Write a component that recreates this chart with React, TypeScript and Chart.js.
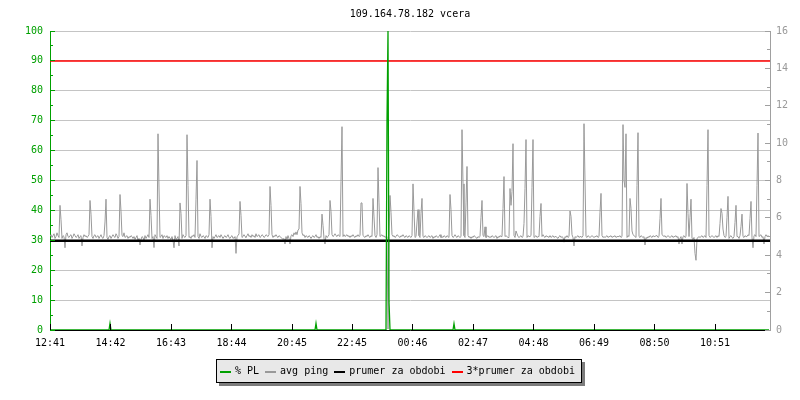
import React, { useEffect, useRef } from 'react';
import { Chart, registerables } from 'chart.js';

Chart.register(...registerables);

const TITLE = '109.164.78.182 vcera';
const X_LABELS = ['12:41', '14:42', '16:43', '18:44', '20:45', '22:45', '00:46', '02:47', '04:48', '06:49', '08:50', '10:51'];
const START_LABEL = '12:41';
const SAMPLE_MIN = 2;
const SPAN_MIN = 1440;
const PL_MAX = 100;
const PING_MAX = 16;

// avg ping baseline (ms), one sample per 2 minutes
const PING_BASE = [
  5.0, 5.1, 4.95, 5.05, 5.15, 4.9, 5.0, 5.2, 5.05, 4.95,
  5.1, 5.0, 4.9, 5.05, 5.0, 4.9, 5.1, 5.2, 5.0, 4.95,
  5.05, 5.1, 4.9, 5.0, 5.15, 5.05, 4.95, 5.0, 5.1, 4.9,
  5.0, 5.05, 4.9, 4.95, 5.1, 5.0, 5.05, 4.95, 5.0, 5.1,
  5.05, 4.95, 5.0, 4.9, 5.05, 5.1, 4.95, 5.0, 5.05, 4.9,
  5.0, 5.1, 4.95, 4.9, 5.05, 5.0, 5.1, 4.95, 4.85, 5.0,
  5.05, 4.9, 5.0, 5.1, 5.0, 4.95, 5.15, 5.05, 4.9, 5.0,
  5.1, 4.95, 5.05, 5.0, 5.2, 4.95, 5.0, 5.05, 4.9, 5.0,
  4.95, 5.05, 5.0, 4.9, 5.0, 4.85, 4.95, 5.05, 4.8, 4.9,
  5.0, 4.85, 5.0, 4.95, 4.8, 5.05, 4.9, 5.0, 5.1, 4.95,
  5.0, 5.05, 4.9, 5.0, 4.95, 5.1, 5.0, 4.9, 5.05, 5.0,
  4.95, 5.0, 5.1, 4.9, 5.05, 5.0, 4.95, 5.05, 4.9, 5.0,
  4.9, 4.85, 5.0, 4.8, 4.95, 5.05, 4.85, 4.9, 5.0, 4.95,
  5.05, 5.0, 4.9, 5.1, 5.0, 4.95, 5.05, 5.0, 5.1, 4.95,
  5.0, 4.9, 5.05, 5.0, 5.1, 4.95, 5.0, 5.05, 5.0, 4.9,
  5.15, 5.0, 4.95, 5.05, 5.0, 4.9, 5.05, 5.0, 4.95, 5.1,
  5.0, 4.95, 5.05, 5.0, 4.9, 5.0, 5.1, 4.95, 5.0, 5.05,
  4.95, 5.1, 5.0, 4.9, 5.0, 5.05, 4.95, 5.0, 5.1, 4.95,
  4.9, 5.0, 5.05, 4.9, 4.95, 5.0, 4.9, 5.0, 5.05, 5.15,
  5.0, 5.05, 4.95, 5.0, 5.1, 5.0, 4.95, 5.05, 5.15, 5.0,
  5.05, 4.95, 5.1, 5.0, 5.05, 4.95, 5.15, 5.0, 5.05, 5.1,
  4.95, 5.0, 5.1, 5.05, 4.95, 5.0, 5.1, 5.05, 5.0, 5.1,
  5.0, 5.05, 5.1, 4.95, 5.05, 5.0, 5.1, 5.0, 4.95, 5.05,
  5.0, 4.95, 4.9, 4.85, 4.9, 4.95, 5.0, 4.85, 5.05, 4.9,
  5.0, 5.05, 5.1, 5.0, 5.2, 5.1, 5.25, 5.1, 5.05, 5.0,
  5.1, 5.0, 5.2, 5.05, 5.1, 4.95, 5.05, 5.0, 4.95, 5.05,
  5.0, 4.9, 5.0, 5.05, 4.95, 5.0, 5.1, 4.95, 5.0, 4.9,
  5.0, 4.95, 5.05, 5.0, 4.9, 5.0, 5.05, 4.95, 5.0, 5.1,
  5.0, 5.05, 5.1, 5.0, 5.05, 5.15, 5.05, 5.0, 5.1, 5.05,
  5.0, 5.1, 5.05, 5.0, 5.1, 5.0, 5.05, 5.1, 5.0, 5.05,
  4.95, 5.05, 5.0, 5.1, 5.0, 4.95, 5.05, 5.0, 5.1, 5.0,
  5.05, 5.0, 5.1, 5.05, 5.0, 4.95, 5.05, 5.0, 5.1, 5.0,
  4.95, 5.05, 5.0, 5.1, 5.0, 5.05, 4.95, 5.1, 5.0, 5.05,
  5.0, 5.05, 5.1, 5.0, 5.05, 4.95, 5.0, 5.0, 5.0, 5.0,
  5.0, 5.05, 5.1, 5.0, 5.05, 4.95, 5.0, 5.1, 5.05, 5.0,
  4.95, 5.05, 5.0, 5.1, 5.0, 4.95, 5.05, 5.0, 4.95, 5.05,
  5.0, 4.95, 5.05, 5.0, 5.0, 4.95, 5.0, 5.05, 5.0, 5.05,
  4.95, 5.0, 5.05, 5.0, 4.95, 5.05, 5.0, 4.95, 5.0, 5.05,
  4.95, 5.0, 5.05, 4.9, 5.0, 4.95, 5.05, 5.0, 4.95, 5.0,
  5.1, 4.95, 5.0, 4.95, 5.05, 5.0, 4.95, 5.05, 5.0, 4.95,
  5.0, 5.0, 5.05, 4.95, 5.0, 5.1, 5.0, 4.95, 5.05, 5.0,
  4.95, 5.0, 5.0, 5.0, 5.05, 4.95, 5.0, 5.0, 5.05, 4.95,
  5.0, 4.9, 5.0, 4.95, 5.05, 5.0, 4.95, 4.9, 5.0, 4.95,
  5.0, 5.0, 5.0, 5.05, 5.0, 5.0, 4.95, 5.0, 5.05, 4.95,
  5.0, 4.95, 5.05, 5.0, 4.95, 5.0, 5.05, 4.9, 5.0, 4.95,
  5.05, 5.0, 5.0, 4.95, 5.0, 5.0, 5.05, 5.0, 4.95, 5.0,
  5.0, 5.0, 5.0, 5.0, 5.05, 4.95, 5.0, 5.15, 5.0, 4.95,
  5.0, 5.05, 4.95, 5.0, 5.0, 5.0, 5.0, 4.95, 5.05, 5.0,
  5.0, 5.05, 5.0, 5.0, 4.95, 5.0, 5.05, 4.95, 5.0, 5.0,
  5.0, 5.0, 5.0, 5.1, 5.0, 4.95, 5.05, 5.0, 5.0, 4.95,
  5.05, 4.95, 5.0, 5.05, 4.95, 5.0, 5.0, 4.95, 4.9, 5.0,
  5.05, 4.95, 5.0, 4.95, 4.85, 5.0, 4.95, 5.05, 4.95, 5.0,
  5.0, 5.0, 5.1, 4.95, 4.9, 5.0, 4.95, 5.0, 5.05, 4.95,
  5.0, 5.0, 4.95, 5.05, 5.0, 5.0, 5.0, 4.95, 5.05, 5.0,
  4.95, 5.0, 5.05, 5.0, 4.95, 5.0, 5.0, 5.05, 4.95, 5.0,
  5.0, 5.0, 5.05, 4.95, 5.0, 4.95, 5.0, 5.05, 4.95, 5.0,
  5.0, 5.05, 4.95, 5.0, 5.0, 5.05, 4.95, 5.0, 5.0, 5.0,
  5.05, 4.95, 5.0, 5.0, 5.0, 5.0, 5.0, 4.95, 5.05, 5.0,
  5.0, 5.0, 5.0, 5.1, 5.05, 5.0, 4.95, 5.0, 5.0, 5.0,
  4.95, 5.05, 5.0, 4.95, 5.0, 5.05, 4.95, 4.9, 5.0, 4.95,
  5.05, 5.0, 4.95, 5.05, 5.0, 5.0, 5.05, 5.05, 4.95, 5.0,
  5.0, 5.0, 5.1, 5.05, 5.0, 5.05, 4.95, 5.0, 5.05, 5.0,
  4.95, 5.0, 5.05, 4.95, 5.0, 5.0, 5.05, 4.95, 5.0, 5.0,
  4.9, 5.0, 4.95, 5.0, 5.05, 4.95, 5.0, 5.0, 5.0, 5.0,
  5.0, 5.0, 4.9, 4.85, 4.95, 4.8, 4.8, 4.9, 4.95, 5.0,
  4.95, 5.0, 5.05, 4.95, 5.0, 5.05, 4.95, 5.0, 5.0, 5.05,
  4.95, 5.0, 5.05, 5.0, 4.95, 5.0, 5.05, 4.95, 5.05, 5.0,
  5.0, 5.0, 5.0, 5.0, 5.05, 4.95, 5.0, 5.0, 5.0, 4.9,
  5.0, 5.05, 4.95, 4.9, 5.0, 5.05, 5.0, 5.0, 5.0, 4.9,
  5.05, 5.0, 5.0, 5.0, 4.95, 5.05, 5.0, 5.0, 5.1, 5.05,
  5.0, 5.0, 4.95, 5.0, 5.05, 5.1, 5.0, 5.1, 5.0, 5.0,
  5.05, 5.1, 4.95, 5.0, 4.85, 5.0, 5.1, 5.0, 5.05, 5.0,
];

// [sample index, ms] spikes and dips
const PING_EVENTS: [number, number][] = [
  [10, 6.67], [11, 5.9], [15, 4.4], [32, 4.5], [40, 6.93], [41, 6.2], [55, 5.78], [56, 7.0],
  [70, 7.25], [71, 6.36], [90, 4.55], [100, 7.0], [101, 6.13], [104, 4.41], [108, 10.5], [109, 7.6],
  [124, 4.4], [129, 4.5], [130, 6.8], [131, 6.24], [137, 10.45], [138, 7.73], [146, 7.0], [147, 9.07],
  [160, 7.0], [161, 6.08], [162, 4.4], [186, 4.1], [190, 6.88], [191, 6.13], [220, 7.68], [221, 6.67],
  [235, 4.6], [240, 4.6], [248, 5.35], [249, 5.4], [250, 7.68], [251, 6.76], [272, 6.2], [273, 5.6],
  [275, 4.6], [280, 6.93], [281, 6.35], [291, 7.95], [292, 10.88], [311, 6.8], [312, 6.8], [323, 7.04],
  [324, 6.05], [328, 8.69], [329, 6.8], [338, 0.05], [340, 7.2], [341, 6.3],
  [363, 7.82], [364, 6.36], [367, 5.78], [368, 6.44], [371, 6.25], [372, 7.04], [400, 7.25], [401, 6.44],
  [412, 10.72], [413, 7.82], [416, 6.8], [417, 8.75], [431, 6.03], [432, 6.93], [435, 5.52], [453, 6.5],
  [454, 8.21], [460, 7.57], [461, 6.67], [462, 7.41], [463, 9.97], [466, 5.3], [474, 5.7], [475, 7.57],
  [476, 10.19], [482, 7.63], [483, 10.19], [490, 6.08], [491, 6.77], [514, 4.7], [520, 6.37], [521, 6.08],
  [524, 4.5], [534, 11.04], [535, 8.0], [550, 6.3], [551, 7.31], [573, 10.99], [574, 8.0], [575, 7.63],
  [576, 10.5], [580, 7.04], [581, 6.51], [582, 5.3], [587, 7.73], [588, 10.56], [595, 4.55],
  [610, 5.97], [611, 7.04], [629, 4.6], [632, 4.6], [637, 7.84], [638, 6.24], [640, 6.03], [641, 7.0],
  [645, 4.1], [646, 3.73], [657, 7.73], [658, 10.72], [670, 5.7], [671, 6.5], [672, 6.24], [673, 5.4],
  [677, 6.03], [678, 7.15], [685, 5.75], [686, 6.67], [691, 5.55], [692, 6.2], [700, 5.97], [701, 6.88],
  [703, 4.4], [707, 7.73], [708, 10.54], [714, 4.6],
];

// [sample index, % packet loss]
const PL_EVENTS: [number, number][] = [
  [60, 2.2], [266, 2.2], [337, 70], [338, 100], [339, 9.4], [404, 2.1],
];

const AVG_PING = 4.78;
const AVG_PING_3X = 14.4;

const GREEN = '#00a000';
const GRAY = '#999999';
const RED = '#ff0000';
const BLACK = '#000000';
const GRID = '#c4c4c4';
const FONT_FAMILY = '"DejaVu Sans Mono", monospace';
const FONT = `10px ${FONT_FAMILY}`;

const LEGEND = [
  { label: '% PL', color: GREEN },
  { label: 'avg ping', color: GRAY },
  { label: 'prumer za obdobi', color: BLACK },
  { label: '3*prumer za obdobi', color: RED },
];

function toMinutes(s: string) {
  const [h, m] = s.split(':').map(Number);
  const [h0, m0] = START_LABEL.split(':').map(Number);
  let d = h * 60 + m - (h0 * 60 + m0);
  if (d < 0) d += 1440;
  return d;
}
const X_TICKS = X_LABELS.map(toMinutes);

function buildPing() {
  const arr = PING_BASE.slice();
  PING_EVENTS.forEach(([i, v]) => { arr[i] = v; });
  return arr.map((v, i) => ({ x: i * SAMPLE_MIN, y: v }));
}
function buildPL() {
  const arr = PING_BASE.map(() => 0);
  PL_EVENTS.forEach(([i, v]) => { arr[i] = v; });
  return arr.map((v, i) => ({ x: i * SAMPLE_MIN, y: v }));
}

const decorPlugin = {
  id: 'decor',
  afterDraw(chart: any) {
    const { ctx, chartArea: ca, scales } = chart;
    const yL = scales.yL, yR = scales.yR, x = scales.x;
    const al = (p: number) => Math.round(p - 0.5) + 0.5;
    ctx.save();
    ctx.lineWidth = 1;
    ctx.strokeStyle = GREEN;
    for (let v = 0; v <= PL_MAX; v += 5) {
      const y = al(yL.getPixelForValue(v));
      const len = v % 10 === 0 ? 5 : 3;
      ctx.beginPath();
      ctx.moveTo(ca.left, y);
      ctx.lineTo(ca.left + len, y);
      ctx.stroke();
    }
    ctx.strokeStyle = '#a0a0a0';
    for (let v = 0; v <= PING_MAX; v += 1) {
      const y = al(yR.getPixelForValue(v));
      const len = v % 2 === 0 ? 5 : 3;
      ctx.beginPath();
      ctx.moveTo(ca.right - len, y);
      ctx.lineTo(ca.right, y);
      ctx.stroke();
    }
    ctx.strokeStyle = BLACK;
    X_TICKS.forEach((t) => {
      const px = al(x.getPixelForValue(t));
      ctx.beginPath();
      ctx.moveTo(px, ca.bottom - 6);
      ctx.lineTo(px, ca.bottom);
      ctx.stroke();
    });
    ctx.font = FONT;
    ctx.fillStyle = BLACK;
    ctx.textAlign = 'center';
    ctx.textBaseline = 'alphabetic';
    ctx.fillText(TITLE, (ca.left + ca.right) / 2, 17);
    const MARK = 11, GAP1 = 4, GAP2 = 6, PADL = 4, PADR = 7;
    const widths = LEGEND.map((l) => ctx.measureText(l.label).width);
    let total = PADL + PADR;
    widths.forEach((w, i) => { total += MARK + GAP1 + w + (i > 0 ? GAP2 : 0); });
    total = Math.round(total);
    const bx = Math.round(399 - total / 2);
    const by = 359, bh = 24;
    ctx.fillStyle = '#7c7c7c';
    ctx.fillRect(bx + 3, by + 3, total, bh);
    ctx.fillStyle = '#e8e8e8';
    ctx.fillRect(bx, by, total, bh);
    ctx.strokeStyle = BLACK;
    ctx.strokeRect(bx + 0.5, by + 0.5, total - 1, bh - 1);
    let cx = bx + PADL;
    ctx.textAlign = 'left';
    LEGEND.forEach((l, i) => {
      if (i > 0) cx += GAP2;
      ctx.fillStyle = l.color;
      ctx.fillRect(Math.round(cx), 371, MARK, 2);
      cx += MARK + GAP1;
      ctx.fillStyle = BLACK;
      ctx.fillText(l.label, cx, 374);
      cx += widths[i];
    });
    ctx.restore();
  },
};

export default function App() {
  const ref = useRef<HTMLCanvasElement | null>(null);
  useEffect(() => {
    if (!ref.current) return;
    Chart.defaults.font.family = FONT_FAMILY;
    Chart.defaults.font.size = 10;
    const chart = new Chart(ref.current, {
      type: 'line',
      data: {
        datasets: [
          { label: '% PL', data: buildPL(), yAxisID: 'yL', borderColor: GREEN, borderWidth: 1.3, pointRadius: 0, tension: 0 },
          { label: '3*prumer za obdobi', data: [{ x: 0, y: AVG_PING_3X }, { x: SPAN_MIN, y: AVG_PING_3X }], yAxisID: 'yR', borderColor: RED, borderWidth: 1.5, pointRadius: 0 },
          { label: 'prumer za obdobi', data: [{ x: 0, y: AVG_PING }, { x: SPAN_MIN, y: AVG_PING }], yAxisID: 'yR', borderColor: BLACK, borderWidth: 2.5, pointRadius: 0 },
          { label: 'avg ping', data: buildPing(), yAxisID: 'yR', borderColor: GRAY, borderWidth: 1, pointRadius: 0, tension: 0 },
        ],
      },
      options: {
        responsive: false,
        animation: false,
        devicePixelRatio: 1,
        layout: { padding: { top: 31, left: 0, right: 0, bottom: 0 } },
        plugins: { legend: { display: false }, tooltip: { enabled: false }, title: { display: false } },
        scales: {
          x: {
            type: 'linear',
            min: 0,
            max: SPAN_MIN,
            afterBuildTicks: (axis: any) => { axis.ticks = X_TICKS.map((v) => ({ value: v })); },
            afterFit: (s: any) => { s.height = 70; },
            ticks: {
              autoSkip: false,
              maxRotation: 0,
              padding: 7,
              color: BLACK,
              font: { family: FONT_FAMILY, size: 10 },
              callback: (_v: any, i: number) => X_LABELS[i],
            },
            grid: { display: false, drawTicks: false },
            border: { display: true, color: BLACK, width: 1 },
          },
          yL: {
            type: 'linear',
            position: 'left',
            min: 0,
            max: PL_MAX,
            afterFit: (s: any) => { s.width = 50; },
            ticks: { stepSize: 10, padding: 7, color: GREEN, font: { family: FONT_FAMILY, size: 10 } },
            grid: { display: true, color: GRID, drawTicks: false, lineWidth: 1 },
            border: { display: true, color: GREEN, width: 1 },
          },
          yR: {
            type: 'linear',
            position: 'right',
            min: 0,
            max: PING_MAX,
            afterFit: (s: any) => { s.width = 30; },
            ticks: { stepSize: 2, padding: 6, color: GRAY, font: { family: FONT_FAMILY, size: 10 } },
            grid: { display: false, drawTicks: false },
            border: { display: true, color: '#a0a0a0', width: 1 },
          },
        },
      } as any,
      plugins: [decorPlugin],
    });
    return () => chart.destroy();
  }, []);
  return (
    <div style={{ position: 'absolute', left: 0, top: 0, width: 800, height: 400, background: '#fff' }}>
      <canvas ref={ref} width={800} height={400} style={{ display: 'block' }} />
    </div>
  );
}
